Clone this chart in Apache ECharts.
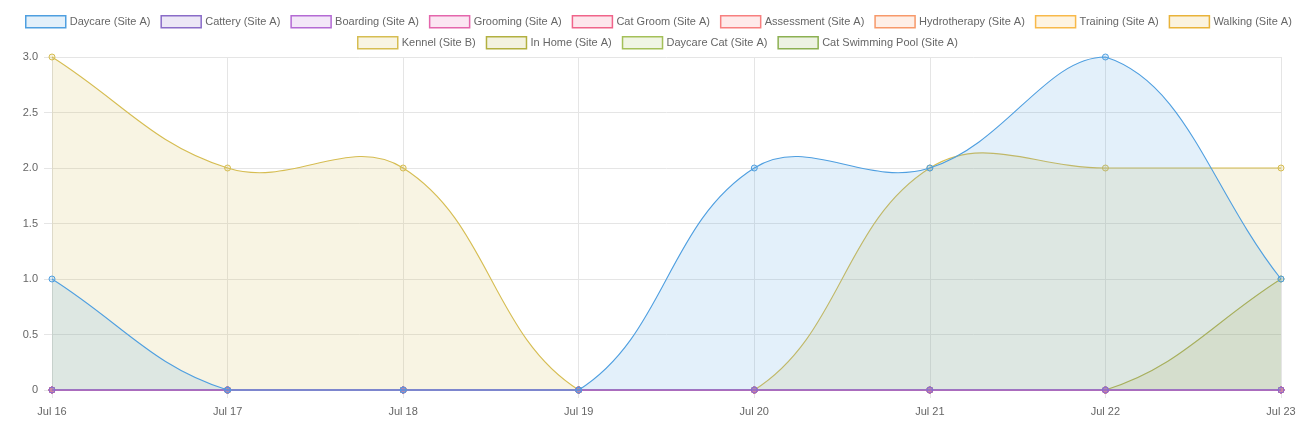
<!DOCTYPE html>
<html>
<head>
<meta charset="utf-8">
<script src="https://cdn.jsdelivr.net/npm/echarts@6/dist/echarts.min.js"></script>
<style>html,body{margin:0;padding:0;background:#fff}#c{width:1309px;height:423px}</style>
</head>
<body>
<div id="c"></div>
<script>
const categories = ['Jul 16','Jul 17','Jul 18','Jul 19','Jul 20','Jul 21','Jul 22','Jul 23'];
const yTicks = [0, 0.5, 1.0, 1.5, 2.0, 2.5, 3.0];
const seriesNames = ['Daycare (Site A)','Cattery (Site A)','Boarding (Site A)','Grooming (Site A)','Cat Groom (Site A)','Assessment (Site A)','Hydrotherapy (Site A)','Training (Site A)','Walking (Site A)','Kennel (Site B)','In Home (Site A)','Daycare Cat (Site A)','Cat Swimming Pool (Site A)'];
const daycareA = [1,0,0,0,2,2,3,1];
const catteryA = [0,0,0,0,0,0,0,0];
const boardingA = [0,0,0,0,0,0,0,0];
const groomingA = [0,0,0,0,0,0,0,0];
const catGroomA = [0,0,0,0,0,0,0,0];
const assessmentA = [0,0,0,0,0,0,0,0];
const hydrotherapyA = [0,0,0,0,0,0,0,0];
const trainingA = [0,0,0,0,0,0,0,0];
const walkingA = [0,0,0,0,0,0,0,0];
const kennelB = [3,2,2,0,0,2,2,2];
const inHomeA = [0,0,0,0,0,0,0,1];
const daycareCatA = [0,0,0,0,0,0,0,0];
const catSwimA = [0,0,0,0,0,0,0,0];
const seriesValues = [daycareA,catteryA,boardingA,groomingA,catGroomA,assessmentA,hydrotherapyA,trainingA,walkingA,kennelB,inHomeA,daycareCatA,catSwimA];

const borders = ['#4f9fe0','#8a6cc8','#b46ad4','#e466ac','#f0648a','#f77f7f','#f7996a','#f8b94a','#e9b33a','#d6bd52','#b2b040','#a4c058','#8cb052'];
function hexA(h,a){const n=parseInt(h.slice(1),16);return `rgba(${n>>16},${(n>>8)&255},${n&255},${a})`;}
const TENSION = 0.4;

function makeRender(idx){
  return function(params, api){
    const n = categories.length;
    const cs = params.coordSys;
    const area = {left:cs.x, right:cs.x+cs.width, top:cs.y, bottom:cs.y+cs.height};
    const pts = [];
    for(let k=0;k<n;k++){ const c = api.coord([k, api.value(k)]); pts.push({x:c[0], y:c[1]}); }
    for(let i=0;i<n;i++){
      const prev = pts[Math.max(i-1,0)], cur = pts[i], next = pts[Math.min(i+1,n-1)];
      const d01 = Math.hypot(cur.x-prev.x, cur.y-prev.y);
      const d12 = Math.hypot(next.x-cur.x, next.y-cur.y);
      let s01 = d01/(d01+d12), s12 = d12/(d01+d12);
      if(isNaN(s01)) s01=0; if(isNaN(s12)) s12=0;
      const fa = TENSION*s01, fb = TENSION*s12;
      cur.cp1x = cur.x - fa*(next.x-prev.x); cur.cp1y = cur.y - fa*(next.y-prev.y);
      cur.cp2x = cur.x + fb*(next.x-prev.x); cur.cp2y = cur.y + fb*(next.y-prev.y);
      const cap=(v,a,b)=>Math.max(Math.min(v,b),a);
      cur.cp1x=cap(cur.cp1x,area.left,area.right); cur.cp1y=cap(cur.cp1y,area.top,area.bottom);
      cur.cp2x=cap(cur.cp2x,area.left,area.right); cur.cp2y=cap(cur.cp2y,area.top,area.bottom);
    }
    let d = `M${pts[0].x} ${pts[0].y}`;
    for(let i=1;i<n;i++){
      const a=pts[i-1], b=pts[i];
      d += ` C${a.cp2x} ${a.cp2y} ${b.cp1x} ${b.cp1y} ${b.x} ${b.y}`;
    }
    const base = api.coord([0,0])[1];
    const areaD = d + ` L${pts[n-1].x} ${base} L${pts[0].x} ${base} Z`;
    const children = [
      {type:'path', shape:{pathData:areaD}, style:{fill:hexA(borders[idx],0.16), stroke:null}, silent:true},
      {type:'path', shape:{pathData:d}, style:{fill:null, stroke:borders[idx], lineWidth:1.1}, silent:true}
    ];
    pts.forEach(p=>children.push({type:'circle', shape:{cx:p.x, cy:p.y, r:3}, style:{fill:hexA(borders[idx],0.2), stroke:borders[idx], lineWidth:1}, silent:true}));
    return {type:'group', children};
  };
}

const series = seriesNames.map((name,i)=>({
  name, type:'custom', coordinateSystem:'cartesian2d',
  data:[seriesValues[i]],
  dimensions: categories.map((c,k)=>'d'+k),
  encode:{x:0, y:1},
  z: 30 - i, clip:false,
  itemStyle:{color:borders[i]},
  renderItem: makeRender(i), animation:false
}));

function legendData(from,to){
  const arr=[];
  for(let i=from;i<to;i++) arr.push({name:seriesNames[i], icon:'rect', itemStyle:{color:hexA(borders[i],0.16), borderColor:borders[i], borderWidth:1.5}});
  return arr;
}
const legendCommon = {itemWidth:40, itemHeight:12, itemGap:10, selectedMode:false, padding:5,
  textStyle:{color:'#666', fontSize:11, fontFamily:'Liberation Sans, Arial, sans-serif', padding:[0,0,0,-1]}};

const chart = echarts.init(document.getElementById('c'), null, {renderer:'canvas'});
chart.setOption({
  animation:false,
  legend:[
    Object.assign({top:10, left:20, data:legendData(0,9)}, legendCommon),
    Object.assign({top:31, left:352, data:legendData(9,13)}, legendCommon)
  ],
  grid:{left:52, right:28, top:57, bottom:33, containLabel:false},
  xAxis:{type:'category', data:categories, boundaryGap:false,
    axisLine:{show:false}, axisTick:{show:true, length:8, lineStyle:{color:'#e5e5e5'}},
    splitLine:{show:true, lineStyle:{color:'#e5e5e5'}},
    axisLabel:{color:'#666', fontSize:11, fontFamily:'Liberation Sans, Arial, sans-serif', margin:16}},
  yAxis:{type:'value', min:0, max:3, interval:0.5,
    axisLine:{show:true, lineStyle:{color:'#e0e0e0'}}, axisTick:{show:true, length:8, lineStyle:{color:'#e5e5e5'}},
    splitLine:{show:true, lineStyle:{color:'#e5e5e5'}},
    axisLabel:{color:'#666', fontSize:11, fontFamily:'Liberation Sans, Arial, sans-serif', margin:14,
      formatter:v=>{const t=yTicks.find(x=>Math.abs(x-v)<1e-9);return t===0?'0':(t!==undefined?t.toFixed(1):'');}}},
  series
});
</script>
</body>
</html>
